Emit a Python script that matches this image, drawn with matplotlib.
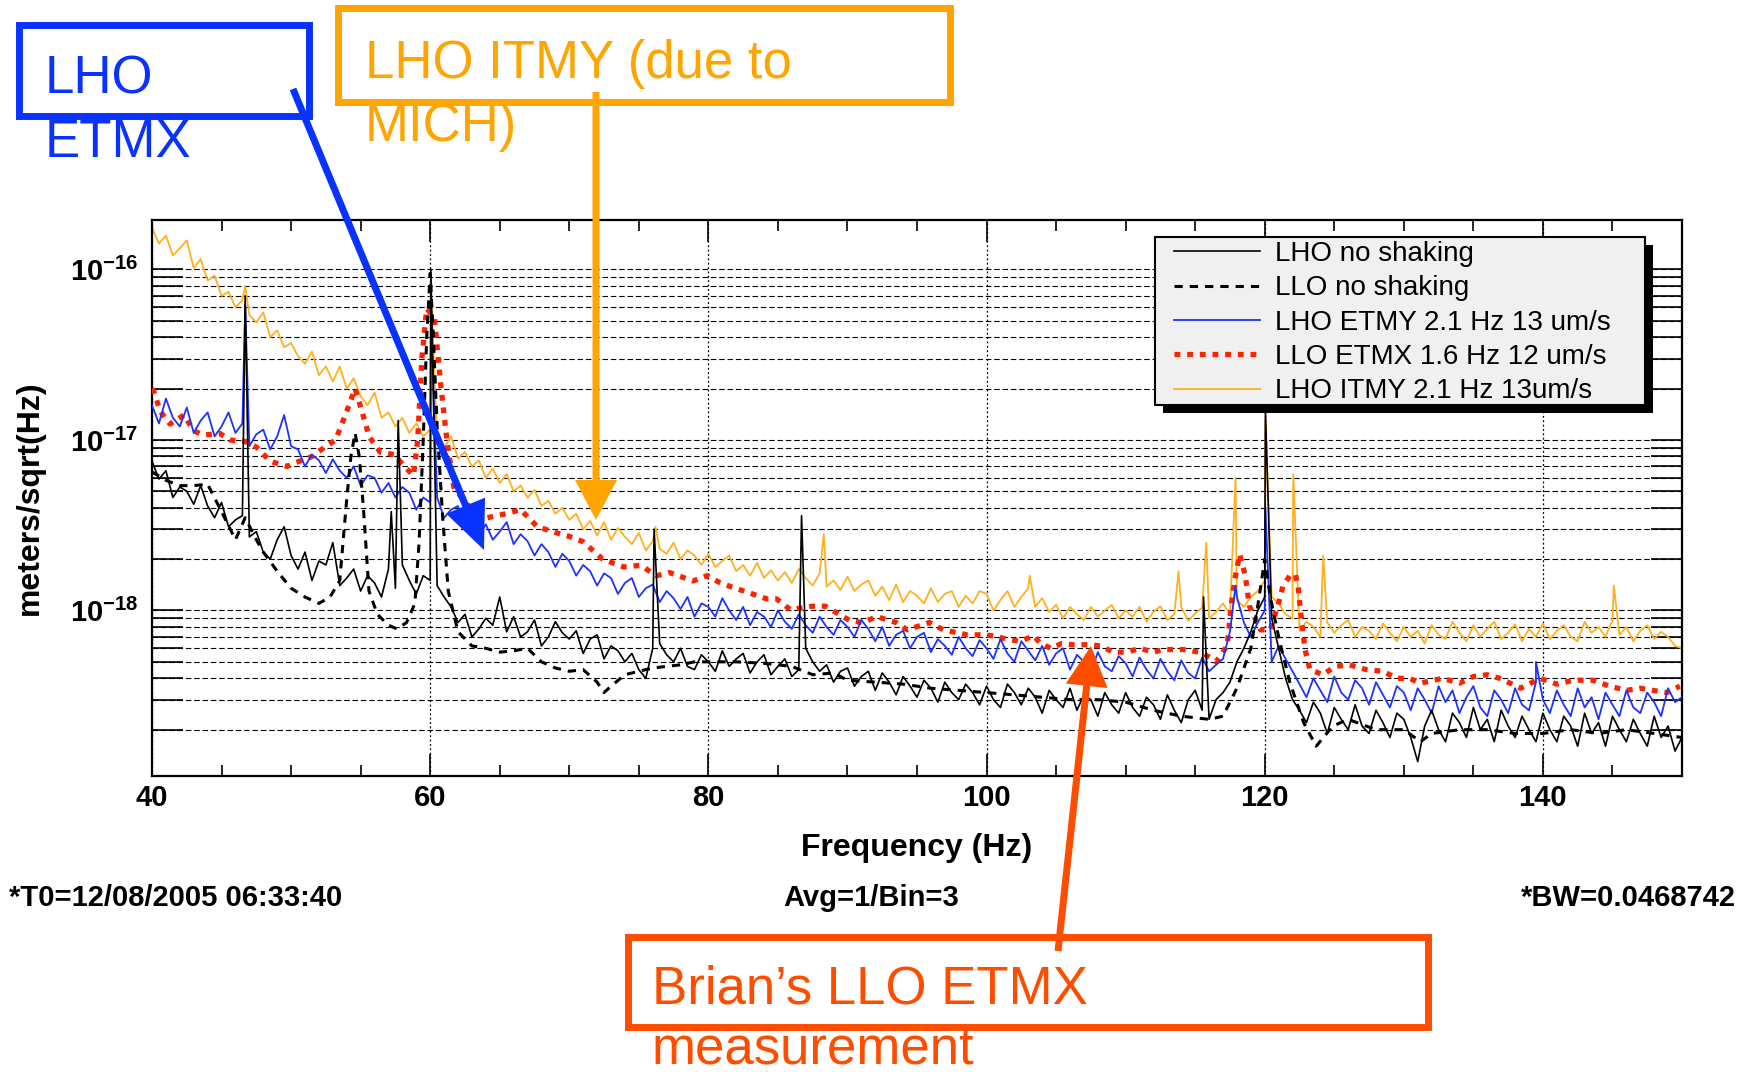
import numpy as np
import matplotlib
matplotlib.use("Agg")
import matplotlib.pyplot as plt
from matplotlib.patches import Rectangle, FancyArrow
from matplotlib.transforms import Affine2D

plt.rcParams["font.family"] = ["Liberation Sans", "DejaVu Sans"]
plt.rcParams["mathtext.fontset"] = "custom"
plt.rcParams["mathtext.rm"] = "Liberation Sans"
plt.rcParams["mathtext.it"] = "Liberation Sans:italic"
plt.rcParams["mathtext.bf"] = "Liberation Sans:bold"

W, H = 1754, 1072
SCALE = 1e-18   # all amplitudes below are in units of 1e-18 m/sqrt(Hz)

# ---- data ----
f_grid = np.arange(40.0, 150.01, 0.5)   # 0.5 Hz steps, 40 .. 150

lho_quiet = [
 7.5, 5.9, 6.6, 4.6, 5.3, 5.0, 4.2, 5.4, 4.1, 3.5, 4.3, 3.1, 3.4, 3.6, 2.7, 2.9, 2.2, 2.0, 2.6, 3.1,
 2.1, 1.75, 2.2, 1.5, 1.95, 1.85, 2.5, 1.4, 1.55, 1.75, 1.3, 1.6, 1.45, 1.2, 1.75, 1.35, 1.85, 1.5, 1.25, 1.6,
 1.5, 1.4, 1.2, 1.05, 0.85, 0.95, 0.7, 0.78, 0.9, 0.82, 1.2, 0.75, 0.92, 0.7, 0.75, 0.88, 0.62, 0.7, 0.86, 0.74,
 0.68, 0.76, 0.56, 0.68, 0.72, 0.52, 0.62, 0.58, 0.5, 0.56, 0.45, 0.4, 0.6, 0.64, 0.55, 0.5, 0.6, 0.47, 0.45, 0.55,
 0.5, 0.44, 0.58, 0.47, 0.52, 0.56, 0.43, 0.5, 0.55, 0.42, 0.47, 0.52, 0.41, 0.45, 0.6, 0.5, 0.44, 0.48, 0.38, 0.44,
 0.46, 0.36, 0.41, 0.44, 0.34, 0.43, 0.38, 0.32, 0.41, 0.36, 0.31, 0.39, 0.35, 0.29, 0.38, 0.33, 0.3, 0.37, 0.33, 0.28,
 0.36, 0.3, 0.27, 0.37, 0.33, 0.28, 0.35, 0.31, 0.25, 0.34, 0.3, 0.27, 0.35, 0.26, 0.32, 0.3, 0.24, 0.33, 0.28, 0.25,
 0.33, 0.27, 0.24, 0.31, 0.28, 0.23, 0.32, 0.26, 0.22, 0.3, 0.34, 0.26, 0.23, 0.3, 0.33, 0.38, 0.5, 0.6, 0.75, 1.0,
 1.2, 0.9, 0.6, 0.4, 0.3, 0.26, 0.22, 0.29, 0.25, 0.19, 0.27, 0.23, 0.2, 0.28, 0.21, 0.19, 0.26, 0.22, 0.18, 0.25,
 0.23, 0.18, 0.13, 0.21, 0.26, 0.2, 0.17, 0.25, 0.22, 0.18, 0.27, 0.2, 0.23, 0.17, 0.26, 0.21, 0.18, 0.24, 0.2, 0.17,
 0.25, 0.2, 0.17, 0.24, 0.21, 0.16, 0.25, 0.19, 0.22, 0.16, 0.24, 0.2, 0.17, 0.23, 0.19, 0.16, 0.24, 0.18, 0.21, 0.15,
 0.18]
lho_quiet_spike_f = [46.7, 57.2, 57.7, 60.05, 76.1, 86.7, 115.6, 120.05]
lho_quiet_spike_v = [70, 3.8, 13, 100, 3.0, 3.6, 1.2, 15]

lho_etmy = [
 16, 12.5, 17.5, 13.5, 12, 15.5, 11, 13, 14.5, 10.5, 12, 14.5, 11, 12.5, 9.2, 10.8, 11.5, 8.8, 10.5, 14,
 9.2, 8.8, 7.0, 8.2, 7.6, 6.4, 7.7, 6.6, 6.0, 7.0, 5.4, 6.2, 6.0, 4.9, 5.6, 4.6, 5.3, 4.9, 3.9, 4.6,
 4.3, 4.6, 3.5, 3.9, 4.1, 3.1, 3.5, 2.75, 3.2, 2.6, 2.9, 3.3, 2.45, 2.8, 2.55, 2.1, 2.45, 2.2, 1.8, 2.15,
 1.95, 1.6, 1.85, 1.7, 1.4, 1.65, 1.55, 1.25, 1.45, 1.55, 1.2, 1.35, 1.42, 1.12, 1.3, 1.18, 1.02, 1.2, 0.92, 1.1,
 1.05, 0.92, 1.18, 1.0, 0.88, 1.05, 0.82, 0.98, 0.92, 0.8, 1.0, 0.86, 0.78, 0.95, 0.82, 0.74, 0.92, 0.8, 0.72, 0.88,
 0.8, 0.7, 0.88, 0.78, 0.66, 0.8, 0.62, 0.72, 0.76, 0.6, 0.7, 0.74, 0.57, 0.68, 0.62, 0.55, 0.7, 0.6, 0.54, 0.67,
 0.6, 0.52, 0.68, 0.56, 0.5, 0.66, 0.58, 0.51, 0.62, 0.48, 0.56, 0.6, 0.45, 0.55, 0.5, 0.43, 0.57, 0.47, 0.44, 0.54,
 0.49, 0.41, 0.53, 0.45, 0.4, 0.52, 0.44, 0.39, 0.51, 0.43, 0.4, 0.53, 0.44, 0.48, 0.52, 0.75, 1.2, 0.85, 0.7, 0.85,
 1.0, 0.5, 0.62, 0.52, 0.44, 0.37, 0.31, 0.4, 0.34, 0.29, 0.41, 0.33, 0.3, 0.39, 0.35, 0.28, 0.38, 0.32, 0.27, 0.36,
 0.33, 0.26, 0.35, 0.3, 0.25, 0.36, 0.29, 0.34, 0.25, 0.31, 0.36, 0.27, 0.24, 0.34, 0.3, 0.25, 0.35, 0.28, 0.26, 0.38,
 0.3, 0.25, 0.34, 0.28, 0.24, 0.35, 0.27, 0.31, 0.23, 0.33, 0.28, 0.24, 0.34, 0.27, 0.25, 0.33, 0.29, 0.24, 0.35, 0.29,
 0.31]
lho_etmy_spike_f = [46.7, 60.05, 117.9, 120.05, 139.5]
lho_etmy_spike_v = [62, 55, 1.4, 4.0, 0.5]

lho_itmy = [
 175, 142, 158, 121, 133, 148, 102, 115, 86, 92, 70, 74, 60, 66, 54, 49, 56, 40, 44, 35,
 37, 31, 28, 33, 24, 27, 22, 27, 20, 23, 18, 16, 19, 13.5, 14.5, 12, 13.5, 11, 12.5, 10.5,
 11.5, 10.2, 9.0, 10.5, 7.8, 8.5, 7.0, 7.6, 6.0, 6.8, 5.6, 6.3, 5.0, 5.4, 4.6, 5.1, 4.1, 4.4, 3.7, 4.0,
 3.4, 3.7, 3.0, 3.35, 2.75, 3.3, 2.6, 3.05, 2.7, 2.45, 2.85, 2.25, 2.55, 2.3, 2.15, 2.5, 2.0, 2.25, 2.1, 1.85,
 2.15, 1.8, 1.95, 2.1, 1.7, 1.85, 1.6, 1.9, 1.55, 1.72, 1.5, 1.68, 1.45, 1.75, 1.55, 1.4, 1.65, 1.38, 1.5, 1.32,
 1.58, 1.3, 1.42, 1.5, 1.22, 1.38, 1.15, 1.42, 1.12, 1.3, 1.22, 1.1, 1.35, 1.12, 1.25, 1.3, 1.05, 1.22, 1.1, 1.3,
 1.25, 1.0, 1.15, 1.3, 1.05, 1.2, 1.35, 1.05, 1.18, 0.98, 1.08, 0.9, 1.05, 0.95, 0.88, 1.05, 0.92, 1.0, 1.08, 0.9,
 1.0, 0.92, 1.05, 0.86, 0.98, 1.06, 0.88, 0.95, 1.05, 0.87, 0.96, 1.04, 0.9, 0.98, 1.1, 0.95, 1.15, 1.05, 1.2, 1.3,
 1.5, 1.2, 1.1, 0.95, 0.9, 0.76, 0.86, 0.8, 0.7, 0.85, 0.74, 0.82, 0.88, 0.7, 0.8, 0.76, 0.68, 0.84, 0.74, 0.66,
 0.8, 0.7, 0.76, 0.64, 0.82, 0.72, 0.68, 0.86, 0.74, 0.66, 0.82, 0.7, 0.78, 0.86, 0.68, 0.74, 0.83, 0.66, 0.78, 0.7,
 0.84, 0.68, 0.76, 0.82, 0.7, 0.66, 0.86, 0.74, 0.8, 0.7, 0.88, 0.72, 0.8, 0.66, 0.76, 0.82, 0.68, 0.75, 0.7, 0.62,
 0.6]
lho_itmy_spike_f = [46.7, 60.05, 76.2, 88.3, 103.1, 113.8, 115.8, 117.9, 120.05, 122.05, 124.2, 145.1]
lho_itmy_spike_v = [80, 75, 3.1, 2.8, 1.6, 1.7, 2.5, 6.0, 13, 6.3, 2.1, 1.4]

llo_quiet_f = [40, 41, 42, 43, 44, 45, 46, 46.7, 47.5, 48, 49, 50, 51, 52, 52.8, 53.5, 54.0, 54.3, 54.6,
               54.9, 55.2, 55.6, 56.2, 57, 57.6, 58.3, 58.9, 59.2, 59.5, 59.75, 60.0, 60.2, 60.5, 60.9,
               61.3, 62, 63, 64, 65, 66, 67, 68, 69, 70, 71, 72, 72.5, 73, 74, 75, 76, 77, 78, 79, 80,
               82, 84, 86, 87.5, 89, 90, 92, 94, 96, 98, 100, 102, 104, 106, 108, 110, 112, 114, 116,
               117, 118, 119, 119.6, 120.0, 120.4, 121, 121.8, 122.8, 123.7, 124.9, 126, 128, 130,
               131.2, 132, 134, 136, 138, 140, 142, 144, 146, 148, 150]
llo_quiet_v = [6.5, 5.8, 5.4, 5.4, 5.5, 3.8, 2.6, 3.5, 2.6, 2.2, 1.7, 1.35, 1.2, 1.1, 1.2, 1.5, 4.5, 8,
               11, 8, 4, 1.3, 0.95, 0.82, 0.78, 0.85, 1.1, 2.5, 10, 40, 95, 45, 12, 3.5,
               1.3, 0.75, 0.62, 0.6, 0.57, 0.58, 0.6, 0.5, 0.46, 0.44, 0.45, 0.38, 0.33, 0.36, 0.42,
               0.44, 0.46, 0.47, 0.48, 0.5, 0.5, 0.5, 0.49, 0.47, 0.42, 0.43, 0.39, 0.38, 0.37, 0.35,
               0.34, 0.33, 0.32, 0.31, 0.3, 0.3, 0.29, 0.26, 0.24, 0.23, 0.24, 0.35, 0.6, 1.2, 2.0,
               1.2, 0.7, 0.38, 0.22, 0.16, 0.21, 0.23, 0.2, 0.2, 0.17, 0.19, 0.2, 0.2, 0.19, 0.19,
               0.2, 0.19, 0.2, 0.19, 0.18]

llo_etmx_f = [40.05, 40.6, 41.3, 42.3, 43.0, 43.7, 44.9, 45.6, 46.7, 47.5, 48.5, 49.7, 50.6, 51.5,
              52.1, 53.2, 54.0, 54.6, 55.1, 55.6, 56.4, 57.4, 58.3, 58.8, 59.1, 59.4, 59.75, 60.3,
              60.8, 61.2, 61.7, 62.6, 64.1, 65.5, 66.5, 67.7, 69.1, 70.0, 71.0, 72.4, 73.9, 75.1,
              76.3, 77.2, 78.9, 79.9, 80.8, 81.6, 82.8, 84.2, 84.9, 85.9, 87.5, 88.4, 90.2, 91.1,
              92.1, 93.5, 94.3, 95.9, 96.9, 98.6, 99.5, 100.6, 101.4, 102.4, 103.4, 103.8, 104.6,
              105.4, 106.2, 107.2, 108.2, 109.1, 110.1, 111.0, 112.0, 112.7, 114.4, 115.6, 116.5,
              117.3, 117.6, 117.9, 118.2, 118.6, 118.9, 119.7, 120.4, 121.0, 121.3, 121.8, 122.2,
              122.4, 122.65, 122.9, 123.25, 124.2, 125.05, 126.1, 127.3, 128.5, 129.5, 130.4, 131.2,
              132.8, 134.0, 135.0, 136.0, 136.9, 138.4, 139.8, 141.0, 142.2, 143.6, 144.8, 146.0,
              147.0, 147.9, 148.9, 149.85]
llo_etmx_v = [20.1, 14.7, 12.4, 14.0, 11.3, 10.7, 10.9, 10.0, 9.8, 9.1, 7.5, 7.0, 7.5, 8.0,
              8.7, 10.0, 14.7, 20.0, 14.7, 10.5, 8.5, 8.2, 6.8, 6.2, 10.0, 30, 59, 52,
              19.6, 10.0, 5.3, 4.2, 3.5, 3.7, 3.9, 3.1, 2.85, 2.72, 2.53, 2.0, 1.8, 1.84,
              1.6, 1.67, 1.49, 1.6, 1.46, 1.38, 1.28, 1.17, 1.17, 1.01, 1.06, 1.06, 0.87, 0.85,
              0.92, 0.85, 0.77, 0.85, 0.77, 0.72, 0.72, 0.71, 0.68, 0.66, 0.71, 0.65, 0.60,
              0.64, 0.63, 0.63, 0.62, 0.57, 0.57, 0.60, 0.57, 0.59, 0.59, 0.56, 0.50,
              0.62, 1.09, 1.6, 2.13, 1.6, 1.06, 0.77, 0.77, 1.11, 1.38, 1.6, 1.63,
              1.38, 0.87, 0.59, 0.45, 0.42, 0.47, 0.48, 0.45, 0.44, 0.40, 0.40, 0.375,
              0.40, 0.375, 0.41, 0.42, 0.40, 0.35, 0.40, 0.37, 0.39, 0.39, 0.36, 0.34,
              0.35, 0.34, 0.33, 0.36]

legend_labels = ["LHO no shaking", "LLO no shaking", "LHO ETMY 2.1 Hz 13 um/s",
                 "LLO ETMX 1.6 Hz 12 um/s", "LHO ITMY 2.1 Hz 13um/s"]
xtick_vals = [40, 60, 80, 100, 120, 140]
ytick_vals = [1e-18, 1e-17, 1e-16]
ytick_labels = [r"$\mathbf{10^{-18}}$", r"$\mathbf{10^{-17}}$", r"$\mathbf{10^{-16}}$"]


def with_spikes(f, v, sf, sv):
    ff = np.concatenate([np.asarray(f, float), np.asarray(sf, float)])
    vv = np.concatenate([np.asarray(v, float), np.asarray(sv, float)])
    o = np.argsort(ff, kind="stable")
    return ff[o], vv[o] * SCALE


for s in (lho_quiet, lho_etmy, lho_itmy):
    assert len(s) == len(f_grid), len(s)

fig = plt.figure(figsize=(W / 100, H / 100), dpi=100)
ax = fig.add_axes([152 / W, 1 - 776 / H, 1530 / W, 556 / H])

c_itmy, c_etmx, c_etmy = "#FFB020", "#FF2200", "#1E32FF"
f, v = with_spikes(f_grid, lho_itmy, lho_itmy_spike_f, lho_itmy_spike_v)
l5, = ax.plot(f, v, color=c_itmy, lw=1.3, zorder=2)
l4, = ax.plot(llo_etmx_f, np.array(llo_etmx_v) * SCALE, color=c_etmx, lw=3.8,
              ls=(0, (1.1, 1.3)), dash_capstyle="butt", zorder=3)
f, v = with_spikes(f_grid, lho_etmy, lho_etmy_spike_f, lho_etmy_spike_v)
l3, = ax.plot(f, v, color=c_etmy, lw=1.3, zorder=4)
l2, = ax.plot(llo_quiet_f, np.array(llo_quiet_v) * SCALE, color="black", lw=2.2,
              ls=(0, (2.7, 2.3)), zorder=5)
f, v = with_spikes(f_grid, lho_quiet, lho_quiet_spike_f, lho_quiet_spike_v)
l1, = ax.plot(f, v, color="black", lw=1.2, zorder=6)

ax.set_yscale("log")
ax.set_xlim(40, 150)
ax.set_ylim(1.07e-19, 1.95e-16)
ax.set_xticks(xtick_vals)
ax.set_xticks(np.arange(45, 150, 5), minor=True)
ax.set_xticklabels([str(t) for t in xtick_vals], fontsize=21, fontweight="bold")
ax.set_yticks(ytick_vals)
ax.set_yticklabels(ytick_labels, fontsize=21)
ax.yaxis.set_minor_formatter(plt.NullFormatter())
ax.tick_params(axis="both", which="both", direction="in", top=True, right=True, width=1.2)
ax.tick_params(axis="x", which="major", length=16, pad=6)
ax.tick_params(axis="x", which="minor", length=8)
ax.tick_params(axis="y", which="both", length=22, pad=10)
for sp in ax.spines.values():
    sp.set_linewidth(1.6)

ax.grid(which="major", axis="x", color="black", lw=0.9, ls=(0, (1.5, 2.0)))
ax.grid(which="both", axis="y", color="black", lw=0.8, ls=(0, (5, 2.5)))

ax.set_xlabel("Frequency (Hz)", fontsize=23, fontweight="bold")
ax.xaxis.set_label_coords(0.5, -0.1295)
ax.xaxis.label.set_va("center")
ax.set_ylabel("meters/sqrt(Hz)", fontsize=23, fontweight="bold")
ax.yaxis.set_label_coords(-0.0797, 0.5)
ax.yaxis.label.set_va("center")

# pixel coordinates, origin at top-left of the image
px = Affine2D().scale(1, -1).translate(0, H)

# legend: frameless entries placed on a hand-drawn grey box with a drop shadow
leg = ax.legend([l1, l2, l3, l4, l5], legend_labels, loc="upper left",
                bbox_to_anchor=((1174 - 152) / 1530, (776 - 241) / 556), borderaxespad=0,
                fontsize=20, frameon=False, handlelength=3.1, handletextpad=0.55,
                labelspacing=0.30, borderpad=0)
leg.set_zorder(10)
ax.add_patch(Rectangle((1163, 245), 490, 168, transform=px, facecolor="black",
                       edgecolor="none", clip_on=False, zorder=8.5))
ax.add_patch(Rectangle((1155, 237), 490, 168, transform=px, facecolor="#F0F0F0",
                       edgecolor="black", lw=1.5, clip_on=False, zorder=9))

fig.text(9, 898, "*T0=12/08/2005 06:33:40", transform=px, fontsize=21,
         fontweight="bold", ha="left", va="center")
fig.text(871, 898, "Avg=1/Bin=3", transform=px, fontsize=21,
         fontweight="bold", ha="center", va="center")
fig.text(1736, 898, "*BW=0.0468742", transform=px, fontsize=21,
         fontweight="bold", ha="right", va="center")

# callout boxes, texts and arrows
c_blue, c_orange, c_red = "#0A32FF", "#FFA500", "#FF4D00"
callouts = [
    (c_blue, (19, 25, 290, 91), [("LHO", 45, 94), ("ETMX", 45, 157)]),
    (c_orange, (338, 8, 612, 94), [("LHO ITMY (due to", 365, 78), ("MICH)", 365, 141)]),
    (c_red, (628, 937, 800, 90), [("Brian\u2019s LLO ETMX", 652, 1004), ("measurement", 652, 1064)]),
]
for col, (x0, y0, w, h), lines in callouts:
    fig.add_artist(Rectangle((x0, y0), w, h, transform=px, fill=False,
                             edgecolor=col, lw=5, zorder=20))
    for s, tx, ty in lines:
        fig.text(tx, ty, s, transform=px, color=col, fontsize=38,
                 ha="left", va="baseline", zorder=21)

arrows = [
    (c_blue, (293, 89), (484, 550), 42, 48),
    (c_orange, (596, 92), (596, 520), 42, 40),
    (c_red, (1058, 951), (1091, 646), 42, 40),
]
for col, (xs, ys), (xe, ye), hw, hl in arrows:
    fig.add_artist(FancyArrow(xs, ys, xe - xs, ye - ys, width=7, head_width=hw,
                              head_length=hl, length_includes_head=True,
                              transform=px, color=col, lw=0, zorder=22))

fig.savefig("out.png", dpi=100)
